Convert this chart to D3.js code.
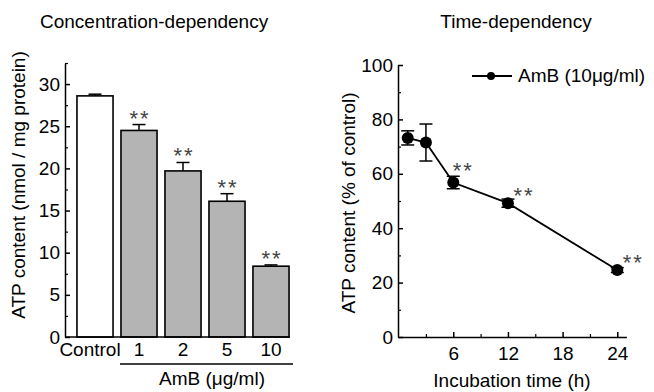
<!DOCTYPE html>
<html>
<head>
<meta charset="utf-8">
<script src="https://cdn.jsdelivr.net/npm/d3@7"></script>
<style>
  html, body { margin: 0; padding: 0; background: #fff; }
  svg text { font-family: "Liberation Sans", Arial, sans-serif; fill: #000; }
</style>
</head>
<body>
<div id="vis-display"></div>
<script>
// Two panels: AmB concentration-dependency (bars) and time-dependency (line).

// ── Data ──────────────────────────────────────────────────────────────────
const concCategories = ["Control", "1", "2", "5", "10"];
const concValues     = [28.6, 24.5, 19.7, 16.1, 8.4];
const concErrors     = [0.2, 0.7, 1.0, 0.9, 0.15];
const concSignif     = [false, true, true, true, true];

const timeHours   = [1, 3, 6, 12, 24];
const timeValues  = [73.2, 71.5, 56.8, 49.2, 24.6];
const timeErrors  = [2.6, 6.8, 2.3, 1.5, 0.9];
const timeSignif  = [false, false, true, true, true];

const leftTicks   = [0, 5, 10, 15, 20, 25, 30];
const rightTicks  = [0, 20, 40, 60, 80, 100];
const timeTicks   = [6, 12, 18, 24];

const W = 654, H = 392;
const FONT = 19;
const STAR = { size: "22px", spacing: "2px", color: "#444" };

const svg = d3.select("#vis-display").append("svg")
  .attr("width", W)
  .attr("height", H);

// ── Left panel: bars ──────────────────────────────────────────────────────

const yL = d3.scaleLinear().domain([0, 32.5]).range([337, 63]);
const xL = d3.scaleBand()
  .domain(concCategories)
  .range([65, 301])
  .paddingInner(0.18)
  .paddingOuter(0.272);

const left = svg.append("g");

const bars = concCategories.map((c, i) => ({
  cat: c, v: concValues[i], e: concErrors[i], sig: concSignif[i], i
}));

// error bars (upper only) behind bars
left.selectAll("g.err")
  .data(bars)
  .join("g")
  .each(function(d) {
    const g = d3.select(this);
    const cx = xL(d.cat) + xL.bandwidth() / 2;
    g.append("line")
      .attr("x1", cx).attr("x2", cx)
      .attr("y1", yL(d.v)).attr("y2", yL(d.v + d.e))
      .attr("stroke", "#000").attr("stroke-width", 1.5);
    g.append("line")
      .attr("x1", cx - 6.5).attr("x2", cx + 6.5)
      .attr("y1", yL(d.v + d.e)).attr("y2", yL(d.v + d.e))
      .attr("stroke", "#000").attr("stroke-width", 1.5);
  });

left.selectAll("rect")
  .data(bars)
  .join("rect")
    .attr("x", d => xL(d.cat))
    .attr("y", d => yL(d.v))
    .attr("width", xL.bandwidth())
    .attr("height", d => yL(0) - yL(d.v))
    .attr("fill", d => d.i === 0 ? "#fff" : "#b4b4b4")
    .attr("stroke", "#000")
    .attr("stroke-width", 1.6);

left.selectAll("text.star")
  .data(bars.filter(d => d.sig))
  .join("text")
    .attr("class", "star")
    .attr("x", d => xL(d.cat) + xL.bandwidth() / 2 + 1)
    .attr("y", d => yL(d.v + d.e) + 1)
    .attr("text-anchor", "middle")
    .style("font-size", STAR.size)
    .style("letter-spacing", STAR.spacing)
    .style("fill", STAR.color)
    .text("**");

// y axis
const axL = left.append("g")
  .attr("transform", "translate(65,0)")
  .call(d3.axisLeft(yL).tickValues(leftTicks).tickSize(-5).tickSizeOuter(0).tickPadding(5));
axL.select(".domain").attr("stroke-width", 1.5);
axL.selectAll(".tick line").attr("stroke-width", 1.5);
axL.selectAll("text").style("font-size", FONT + "px").attr("fill", "#000");

left.append("g")
  .attr("transform", "translate(65,0)")
  .call(d3.axisLeft(yL).tickValues(d3.range(2.5, 33, 5)).tickSize(-3).tickFormat(""))
  .call(g => g.select(".domain").remove())
  .selectAll(".tick line").attr("stroke-width", 1.2);

// x baseline
left.append("line")
  .attr("x1", 65).attr("x2", xL("10") + xL.bandwidth() + 1)
  .attr("y1", yL(0)).attr("y2", yL(0))
  .attr("stroke", "#000").attr("stroke-width", 1.5);

left.selectAll("text.cat")
  .data(bars)
  .join("text")
    .attr("class", "cat")
    .attr("x", d => xL(d.cat) + xL.bandwidth() / 2 - (d.i === 0 ? 5 : 0))
    .attr("y", 356)
    .attr("text-anchor", "middle")
    .style("font-size", FONT + "px")
    .text(d => d.cat);

left.append("line")
  .attr("x1", xL("1") - 1).attr("x2", xL("10") + xL.bandwidth() + 4)
  .attr("y1", 364).attr("y2", 364)
  .attr("stroke", "#000").attr("stroke-width", 1.3);

left.append("text")
  .attr("x", 212).attr("y", 385)
  .attr("text-anchor", "middle")
  .style("font-size", FONT + "px")
  .text("AmB (μg/ml)");

left.append("text")
  .attr("transform", "translate(25,185) rotate(-90)")
  .attr("text-anchor", "middle")
  .style("font-size", FONT + "px")
  .text("ATP content (nmol / mg protein)");

left.append("text")
  .attr("x", 40).attr("y", 28)
  .style("font-size", FONT + "px")
  .text("Concentration-dependency");

// ── Right panel: time course ──────────────────────────────────────────────

const xR = d3.scaleLinear().domain([0, 25]).range([398.6, 626.4]);
const yR = d3.scaleLinear().domain([0, 100]).range([337, 65]);

const right = svg.append("g");

const pts = timeHours.map((t, i) => ({
  t, v: timeValues[i], e: timeErrors[i], sig: timeSignif[i]
}));

const axR = right.append("g")
  .attr("transform", "translate(398,0)")
  .call(d3.axisLeft(yR).tickValues(rightTicks).tickSize(-5).tickSizeOuter(0).tickPadding(5));
axR.select(".domain").attr("stroke-width", 1.5);
axR.selectAll(".tick line").attr("stroke-width", 1.5);
axR.selectAll("text").style("font-size", FONT + "px").attr("fill", "#000");

right.append("g")
  .attr("transform", "translate(398,0)")
  .call(d3.axisLeft(yR).tickValues(d3.range(10, 100, 20)).tickSize(-3).tickFormat(""))
  .call(g => g.select(".domain").remove())
  .selectAll(".tick line").attr("stroke-width", 1.2);

const axX = right.append("g")
  .attr("transform", "translate(0,337)")
  .call(d3.axisBottom(xR).tickValues(timeTicks).tickSize(-5).tickSizeOuter(0).tickPadding(10));
axX.select(".domain").attr("stroke-width", 1.5);
axX.selectAll(".tick line").attr("stroke-width", 1.5);
axX.selectAll("text").style("font-size", FONT + "px").attr("fill", "#000");

right.append("g")
  .attr("transform", "translate(0,337)")
  .call(d3.axisBottom(xR).tickValues([3, 9, 15, 21]).tickSize(-3).tickFormat(""))
  .call(g => g.select(".domain").remove())
  .selectAll(".tick line").attr("stroke-width", 1.2);

// error bars
right.selectAll("g.err")
  .data(pts)
  .join("g")
  .each(function(d) {
    const g = d3.select(this);
    const cx = xR(d.t);
    g.append("line")
      .attr("x1", cx).attr("x2", cx)
      .attr("y1", yR(d.v - d.e)).attr("y2", yR(d.v + d.e))
      .attr("stroke", "#000").attr("stroke-width", 1.5);
    [d.v - d.e, d.v + d.e].forEach(y => {
      g.append("line")
        .attr("x1", cx - 6.5).attr("x2", cx + 6.5)
        .attr("y1", yR(y)).attr("y2", yR(y))
        .attr("stroke", "#000").attr("stroke-width", 1.5);
    });
  });

right.append("path")
  .datum(pts)
  .attr("fill", "none")
  .attr("stroke", "#000")
  .attr("stroke-width", 1.8)
  .attr("d", d3.line().x(d => xR(d.t)).y(d => yR(d.v)));

right.selectAll("circle")
  .data(pts)
  .join("circle")
    .attr("cx", d => xR(d.t))
    .attr("cy", d => yR(d.v))
    .attr("r", 6)
    .attr("fill", "#000");

right.selectAll("text.star")
  .data(pts.filter(d => d.sig))
  .join("text")
    .attr("class", "star")
    .attr("x", (d, i) => xR(d.t) + (i === 0 ? 10 : 16))
    .attr("y", (d, i) => yR(d.v) - (i === 0 ? 5 : 0))
    .attr("text-anchor", "middle")
    .style("font-size", STAR.size)
    .style("letter-spacing", STAR.spacing)
    .style("fill", STAR.color)
    .text("**");

// legend
right.append("line")
  .attr("x1", 472).attr("x2", 512)
  .attr("y1", 76).attr("y2", 76)
  .attr("stroke", "#000").attr("stroke-width", 1.8);
right.append("circle")
  .attr("cx", 491).attr("cy", 76).attr("r", 4)
  .attr("fill", "#000");
right.append("text")
  .attr("x", 518).attr("y", 82)
  .style("font-size", FONT + "px")
  .text("AmB (10μg/ml)");

right.append("text")
  .attr("x", 512).attr("y", 387)
  .attr("text-anchor", "middle")
  .style("font-size", FONT + "px")
  .text("Incubation time (h)");

right.append("text")
  .attr("transform", "translate(355,203) rotate(-90)")
  .attr("text-anchor", "middle")
  .style("font-size", FONT + "px")
  .text("ATP content (% of control)");

right.append("text")
  .attr("x", 516).attr("y", 28)
  .attr("text-anchor", "middle")
  .style("font-size", FONT + "px")
  .text("Time-dependency");
</script>
</body>
</html>
